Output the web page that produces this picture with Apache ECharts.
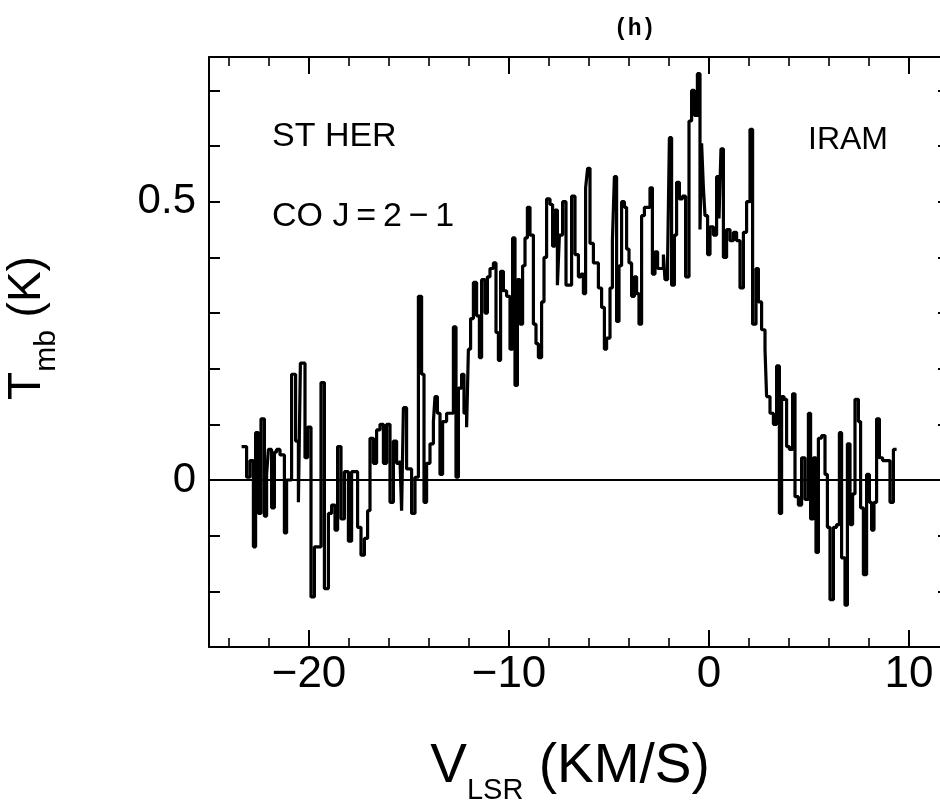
<!DOCTYPE html>
<html>
<head>
<meta charset="utf-8">
<script src="https://cdn.jsdelivr.net/npm/echarts@6/dist/echarts.min.js"></script>
<style>
  html, body { margin: 0; padding: 0; background: #ffffff; }
  #chart { width: 940px; height: 811px; }
</style>
</head>
<body>
<div id="chart"></div>
<script>
// ---- Data (left edge of each channel, km/s) ----
const velocity = [
  -23.37,-23.12,-22.95,-22.78,-22.67,-22.53,-22.40,-22.23,-22.12,-22.03,
  -21.87,-21.73,-21.62,-21.45,-21.23,-21.12,-20.87,-20.67,-20.53,-20.43,
  -20.20,-20.07,-19.90,-19.73,-19.40,-19.23,-19.03,-18.87,-18.70,-18.57,
  -18.40,-18.23,-18.03,-17.87,-17.57,-17.40,-17.23,-17.07,-16.95,-16.78,
  -16.62,-16.45,-16.28,-16.12,-15.95,-15.78,-15.62,
  -15.45,-15.37,-15.28,-15.12,-14.87,-14.70,-14.53,-14.37,-14.25,-14.12,
  -13.95,-13.78,-13.70,-13.58,-13.45,-13.32,-13.12,-12.78,-12.65,-12.53,
  -12.37,-12.25,-12.12,-12.03,-11.92,-11.78,-11.62,-11.48,-11.37,-11.20,
  -11.08,-10.95,-10.78,-10.65,-10.53,-10.42,-10.28,-10.12,-9.95,-9.82,
  -9.70,-9.58,-9.45,-9.32,-9.20,-9.08,-8.95,-8.78,-8.65,-8.53,
  -8.37,-8.25,-8.12,-7.95,-7.82,-7.70,-7.58,-7.48,-7.32,
  -7.15,-6.87,-6.70,-6.53,-6.40,-6.28,-6.17,-6.07,-5.95,-5.78,
  -5.53,-5.37,-5.23,-5.12,-4.95,-4.83,-4.73,-4.62,-4.50,-4.37,
  -4.23,-4.12,-4.00,-3.87,-3.73,-3.62,-3.50,-3.37,-3.23,-2.95,
  -2.83,-2.70,-2.57,-2.28,-2.20,-2.07,-1.98,-1.87,-1.73,-1.62,
  -1.48,-1.33,-1.17,-1.00,-0.87,-0.73,-0.58,-0.45,-0.37,-0.28,
  -0.20,-0.07,0.05,0.22,0.38,0.50,0.60,0.72,0.88,
  1.05,1.22,1.38,1.55,1.72,1.88,2.05,2.18,2.35,2.47,
  2.63,2.80,2.88,3.05,3.22,3.38,3.52,3.63,3.75,3.88,
  4.02,4.18,4.30,4.47,4.63,4.80,4.97,5.08,5.22,5.35,
  5.47,5.63,5.80,5.92,6.05,6.22,6.38,6.52,6.63,6.80,
  6.92,7.05,7.18,7.30,7.47,7.58,7.72,7.88,8.02,8.13,
  8.25,8.38,8.52,8.68,9.05,9.22
];
const spectrumEnd = 9.38;   // right edge of the last channel (km/s)

// main-beam temperature (K) of each channel
const tmb = [
  0.06,0.005,0.035,-0.12,0.085,-0.06,0.11,-0.065,0.01,0.055,
  -0.05,0.05,0.055,0.045,-0.095,0.0,0.19,0.07,-0.04,0.21,
  0.04,0.095,-0.21,-0.12,0.175,-0.195,-0.06,-0.045,-0.09,0.06,
  -0.07,0.015,-0.11,0.015,-0.085,-0.135,-0.105,-0.055,0.075,0.03,
  0.09,0.1,0.03,0.1,-0.04,0.07,0.03,
  0.035,-0.055,0.13,0.02,-0.06,0.005,0.33,0.19,-0.04,0.03,
  0.065,0.105,0.15,0.12,0.01,0.105,0.12,0.275,0.005,0.165,
  0.19,0.12,0.095,0.235,0.29,0.355,0.295,0.22,0.36,0.3,
  0.365,0.38,0.39,0.265,0.215,0.375,0.34,0.33,0.235,0.435,
  0.17,0.36,0.28,0.385,0.435,0.49,0.44,0.28,0.245,0.22,
  0.32,0.4,0.505,0.495,0.42,0.485,0.35,0.44,0.5,
  0.35,0.51,0.405,0.365,0.37,0.335,0.525,0.56,0.425,0.39,
  0.345,0.31,0.235,0.255,0.345,0.43,0.545,0.285,0.385,0.5,
  0.49,0.415,0.39,0.33,0.365,0.335,0.28,0.475,0.49,0.525,
  0.37,0.41,0.38,0.405,0.36,0.395,0.615,0.35,0.44,0.535,
  0.505,0.51,0.365,0.645,0.7,0.655,0.73,0.45,0.605,0.525,
  0.475,0.405,0.455,0.44,0.545,0.47,0.595,0.4,0.45,
  0.43,0.445,0.43,0.345,0.445,0.5,0.63,0.28,0.38,0.32,
  0.27,0.235,0.15,0.12,0.1,0.205,-0.06,0.15,0.145,0.06,
  0.055,0.155,-0.03,-0.045,0.04,-0.035,0.12,-0.07,0.04,-0.13,
  0.075,0.08,0.01,-0.085,-0.215,-0.085,-0.08,0.085,-0.14,-0.225,
  0.065,-0.08,-0.025,0.145,0.105,-0.05,-0.17,0.01,-0.04,-0.09,
  -0.04,0.11,0.04,0.035,-0.04,0.055
];

// axis ranges / tick labels
const xRange = [-25, 12];
const yRange = [-0.3, 0.76];
const xTickLabels = [-20, -10, 0, 10];
const yTickLabels = [0, 0.5];

// annotations
const panelLabel = '(h)';
const sourceName = 'ST HER';
const lineName = 'CO J\u2009=\u20092\u2009\u2212\u20091';
const telescope = 'IRAM';

// ---- build ----
const stepData = velocity.map((v, i) => [v, tmb[i]]);
stepData.push([spectrumEnd, tmb[tmb.length - 1]]);

const fmtNum = v => (v < 0 ? '\u2212' + Math.abs(v) : String(v));
const FONT = '"Liberation Sans", Arial, Helvetica, sans-serif';
const BLACK = '#000';

function xAxisCfg(pos, withLabels) {
  return {
    type: 'value', position: pos, min: xRange[0], max: xRange[1],
    minInterval: 10, maxInterval: 10, splitNumber: 4,
    axisLine: { show: true, onZero: false, lineStyle: { color: BLACK, width: 2 } },
    axisTick: { show: true, inside: true, length: 17, lineStyle: { color: BLACK, width: 2 } },
    minorTick: { show: true, splitNumber: 5, length: 9, lineStyle: { color: BLACK, width: 1.6 } },
    splitLine: { show: false }, minorSplitLine: { show: false },
    axisLabel: {
      show: withLabels, showMinLabel: false, showMaxLabel: false,
      margin: 6, color: BLACK, fontFamily: FONT, fontSize: 44,
      formatter: v => (xTickLabels.some(t => Math.abs(t - v) < 1e-6) ? fmtNum(v) : '')
    }
  };
}
function yAxisCfg(pos, withLabels) {
  return {
    type: 'value', position: pos, min: yRange[0], max: yRange[1], interval: 0.1,
    axisLine: { show: true, onZero: false, lineStyle: { color: BLACK, width: 2 } },
    axisTick: { show: true, inside: true, length: 11, lineStyle: { color: BLACK, width: 2 } },
    splitLine: { show: false },
    axisLabel: {
      show: withLabels, showMinLabel: false, showMaxLabel: false,
      margin: 13, color: BLACK, fontFamily: FONT, fontSize: 42,
      formatter: v => {
        const hit = yTickLabels.find(t => Math.abs(t - v) < 1e-6);
        return hit === undefined ? '' : String(hit);
      }
    }
  };
}

const xBottom = xAxisCfg('bottom', true);
xBottom.name = '{v|V}{sub|LSR}{v| (KM/S)}';
xBottom.nameLocation = 'middle';
xBottom.nameGap = 82;
xBottom.nameTextStyle = {
  color: BLACK, fontFamily: FONT, padding: [0, 18, 0, 0],
  rich: {
    v: { fontSize: 55, lineHeight: 76, fontFamily: FONT, color: BLACK },
    sub: { fontSize: 29, lineHeight: 30, verticalAlign: 'bottom', fontFamily: FONT, color: BLACK }
  }
};

const yLeft = yAxisCfg('left', true);
yLeft.name = '{t|T}{sub|mb}{t| (K)}';
yLeft.nameLocation = 'middle';
yLeft.nameGap = 147;
yLeft.nameTextStyle = {
  color: BLACK, fontFamily: FONT, padding: [0, 0, 0, 48],
  rich: {
    t: { fontSize: 46, lineHeight: 70, fontFamily: FONT, color: BLACK },
    sub: { fontSize: 30, lineHeight: 30, verticalAlign: 'bottom', fontFamily: FONT, color: BLACK }
  }
};

const chart = echarts.init(document.getElementById('chart'), null, { renderer: 'canvas' });
chart.setOption({
  backgroundColor: '#ffffff',
  animation: false,
  grid: { left: 209, top: 57, width: 740, height: 590, containLabel: false, outerBoundsMode: 'none' },
  xAxis: [xBottom, xAxisCfg('top', false)],
  yAxis: [yLeft, yAxisCfg('right', false)],
  graphic: [
    { type: 'text', left: 614, top: 18, style: { text: panelLabel, fill: BLACK, font: 'bold 23px "Liberation Mono", "DejaVu Sans Mono", monospace' } },
    { type: 'text', x: 272, y: 137, style: { text: sourceName, fill: BLACK, font: '34px ' + FONT, textVerticalAlign: 'middle' } },
    { type: 'text', x: 272, y: 217, style: { text: lineName, fill: BLACK, font: '34px ' + FONT, textVerticalAlign: 'middle' } },
    { type: 'text', x: 808, y: 140, style: { text: telescope, fill: BLACK, font: '32px ' + FONT, textVerticalAlign: 'middle' } }
  ],
  series: [{
    type: 'line', xAxisIndex: 0, yAxisIndex: 0,
    step: 'end', symbol: 'none', data: stepData,
    lineStyle: { color: BLACK, width: 3.2 },
    markLine: {
      silent: true, symbol: ['none', 'none'],
      label: { show: false },
      lineStyle: { color: BLACK, width: 2, type: 'solid' },
      data: [{ yAxis: 0 }]
    }
  }]
});
</script>
</body>
</html>
